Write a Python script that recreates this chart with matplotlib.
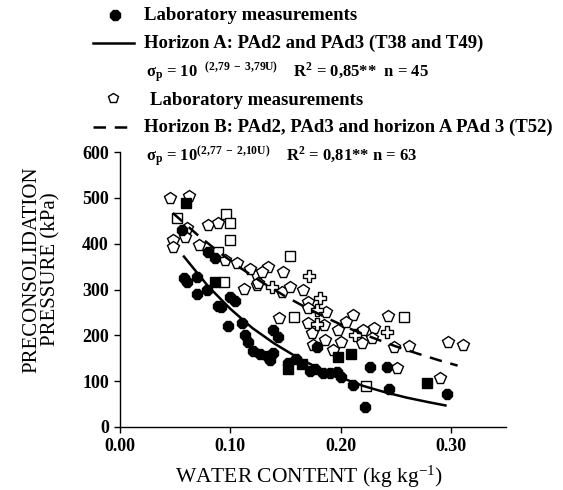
import matplotlib
matplotlib.use("Agg")
import matplotlib.pyplot as plt
from matplotlib.lines import Line2D

plt.rcParams['font.family'] = ['Liberation Serif', 'DejaVu Serif']
plt.rcParams['mathtext.fontset'] = 'custom'
plt.rcParams['mathtext.rm'] = 'Liberation Serif'
plt.rcParams['mathtext.bf'] = 'Liberation Serif:bold'
plt.rcParams['mathtext.it'] = 'Liberation Serif:italic'

# ---- horizon A (filled markers) ----
a_blob_u = [0.056, 0.080, 0.086, 0.058, 0.061, 0.070, 0.070, 0.079, 0.089, 0.092, 0.100,
            0.104, 0.098, 0.111, 0.113, 0.116, 0.121, 0.127, 0.133, 0.139, 0.136, 0.139,
            0.143, 0.152, 0.160, 0.172, 0.177, 0.184, 0.190, 0.197, 0.200, 0.179, 0.211,
            0.227, 0.242, 0.244, 0.222, 0.296]
a_blob_p = [430, 382, 368, 325, 316, 327, 290, 300, 265, 262, 283,
            276, 220, 227, 201, 185, 165, 160, 155, 162, 146, 212,
            197, 140, 148, 122, 127, 118, 117, 119, 110, 175, 92,
            131, 131, 83, 44, 72]
a_sq_u = [0.060, 0.086, 0.152, 0.198, 0.209, 0.278, 0.165]
a_sq_p = [489, 316, 126, 153, 159, 96, 138]

# ---- horizon B (open markers) ----
b_pent_u = [0.045, 0.063, 0.061, 0.059, 0.048, 0.048, 0.080, 0.089, 0.072, 0.095,
            0.106, 0.112, 0.124, 0.124, 0.134, 0.129, 0.125, 0.148, 0.147, 0.154,
            0.170, 0.170, 0.187, 0.144, 0.170, 0.185, 0.174, 0.175, 0.186, 0.193,
            0.211, 0.198, 0.220, 0.219, 0.243, 0.248, 0.297, 0.311, 0.251, 0.290,
            0.118, 0.166, 0.205, 0.230, 0.200, 0.262, 0.228]
b_pent_p = [500, 504, 434, 415, 408, 393, 441, 445, 397, 364,
            358, 301, 310, 332, 349, 338, 314, 338, 295, 305,
            273, 260, 251, 238, 227, 223, 205, 179, 190, 168,
            244, 212, 212, 183, 242, 175, 185, 179, 129, 107,
            345, 300, 230, 215, 185, 176, 195]
b_plus_u = [0.171, 0.181, 0.138, 0.179, 0.242, 0.213, 0.179]
b_plus_p = [330, 282, 305, 225, 207, 201, 255]
b_sq_u = [0.052, 0.096, 0.100, 0.100, 0.089, 0.094, 0.154, 0.158, 0.223, 0.257]
b_sq_p = [456, 465, 445, 408, 382, 316, 373, 240, 89, 240]

# fitted curves
curve_a_u = [0.058, 0.08, 0.10, 0.12, 0.14, 0.16, 0.18, 0.20, 0.22, 0.24, 0.26, 0.28, 0.295]
curve_a_p = [372, 307, 258, 216, 182, 153, 128, 108, 90, 76, 64, 54, 47]
curve_b_u = [0.048, 0.07, 0.09, 0.11, 0.13, 0.15, 0.17, 0.19, 0.21, 0.23, 0.25, 0.27, 0.29, 0.306]
curve_b_p = [467, 420, 381, 346, 314, 285, 259, 235, 213, 194, 176, 160, 145, 134]

x_ticks = [0.0, 0.1, 0.2, 0.3]
x_labels = ['0.00', '0.10', '0.20', '0.30']
y_ticks = [0, 100, 200, 300, 400, 500, 600]

fig = plt.figure(figsize=(5.63, 4.90), dpi=100)

# overlay in pixel coords for the legend block
lay = fig.add_axes([0, 0, 1, 1], zorder=0)
lay.set_xlim(0, 563)
lay.set_ylim(490, 0)
lay.axis('off')

ax = fig.add_axes([0.213, 0.1286, 0.686, 0.561], zorder=1)
ax.patch.set_alpha(0)

ms_blob = 8
ms_sq = 7
ax.plot(b_pent_u, b_pent_p, ls='none', marker='p', ms=8.5, mfc='white', mec='black', mew=1.0)
ax.plot(b_plus_u, b_plus_p, ls='none', marker='P', ms=8.5, mfc='white', mec='black', mew=1.0)
ax.plot(b_sq_u, b_sq_p, ls='none', marker='s', ms=ms_sq, mfc='white', mec='black', mew=1.0)
ax.plot(a_blob_u, a_blob_p, ls='none', marker='8', ms=ms_blob, mfc='black', mec='black')
ax.plot(a_sq_u, a_sq_p, ls='none', marker='s', ms=ms_sq, mfc='black', mec='black')
ax.plot(curve_a_u, curve_a_p, color='black', lw=1.8)
ax.plot(curve_b_u, curve_b_p, color='black', lw=1.8, ls=(0, (5, 3.5)))

ax.set_xlim(0, 0.35)
ax.set_ylim(0, 600)
ax.set_xticks(x_ticks)
ax.set_xticklabels(x_labels)
ax.set_yticks(y_ticks)
for s in ['top', 'right']:
    ax.spines[s].set_visible(False)
ax.spines['left'].set_linewidth(1.0)
ax.spines['bottom'].set_linewidth(1.0)
ax.tick_params(direction='out', length=4, width=1.0, labelsize=13, pad=4)
for lab in ax.get_xticklabels() + ax.get_yticklabels():
    lab.set_fontweight('bold')

fig.text(0.549, 0.027, 'WATER CONTENT (kg kg$^{-1}$)', ha='center', va='center', fontsize=15.5)
fig.text(0.074, 0.45, 'PRECONSOLIDATION\nPRESSURE (kPa)', ha='center', va='center',
         rotation=90, fontsize=15, linespacing=1.0)

# legend block
fs_leg = 13.5
lay.plot([115], [15], ls='none', marker='8', ms=7.5, mfc='black', mec='black')
lay.text(144, 15, 'Laboratory measurements', fontsize=fs_leg, fontweight='bold', va='center')
lay.add_line(Line2D([93, 134], [43, 43], color='black', lw=1.8))
lay.text(144, 43, 'Horizon A: PAd2 and PAd3 (T38 and T49)', fontsize=fs_leg, fontweight='bold', va='center')
lay.text(146, 73, r'$\mathbf{\sigma_p}$ = 10  $^{\mathbf{(2{,}79\ -\ 3{,}79U)}}$    R$^{\mathbf{2}}$ = 0,85**  n = 45',
         fontsize=12, fontweight='bold', va='center')
lay.plot([113], [98], ls='none', marker='p', ms=7.5, mfc='white', mec='black', mew=1.0)
lay.text(150, 100, 'Laboratory measurements', fontsize=fs_leg, fontweight='bold', va='center')
lay.add_line(Line2D([93, 134], [127, 127], color='black', lw=1.8, ls=(0, (5, 3.5))))
lay.text(144, 127, 'Horizon B: PAd2, PAd3 and horizon A PAd 3 (T52)', fontsize=fs_leg, fontweight='bold', va='center')
lay.text(146, 157, r'$\mathbf{\sigma_p}$ = 10$^{\mathbf{(2{,}77\ -\ 2{,}10U)}}$    R$^{\mathbf{2}}$ = 0,81** n = 63',
         fontsize=12, fontweight='bold', va='center')

fig.savefig('out.png', dpi=100)
